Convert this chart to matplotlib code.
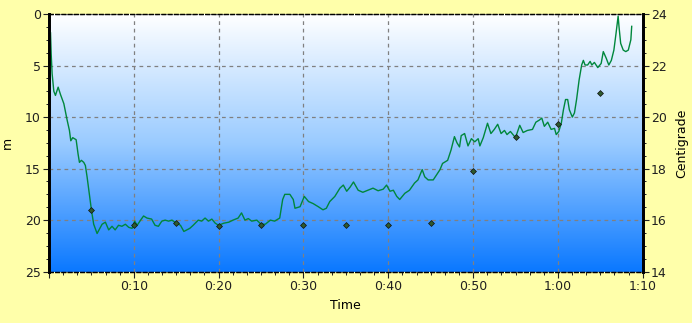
import numpy as np
import matplotlib.pyplot as plt
from matplotlib.colors import LinearSegmentedColormap
from matplotlib.ticker import MultipleLocator, FuncFormatter

# depth profile, time in minutes, depth in m
time_min = [0.0, 0.18, 0.26, 0.37, 0.57, 0.76, 1.08, 1.35, 1.75, 2.14, 2.41, 2.57, 2.8, 3.2,
            3.43, 3.59, 3.82, 4.1, 4.29, 4.49, 4.76, 5.0, 5.27, 5.67, 6.26, 6.65, 7.04,
            7.43, 7.8, 8.2, 8.6, 9.0, 9.4, 9.8, 10.1, 10.4, 10.8, 11.15, 11.55, 12.1,
            12.5, 12.9, 13.3, 13.7, 14.1, 14.5, 15.0, 15.5, 15.9, 16.25, 16.6, 17.0,
            17.6, 18.0, 18.4, 18.8, 19.2, 19.6, 20.0, 20.6, 21.2, 21.7, 22.3, 22.7,
            23.1, 23.5, 23.9, 24.5, 25.0, 25.5, 26.1, 26.6, 27.2, 27.55, 27.8, 28.4,
            28.8, 29.0, 29.6, 30.1, 30.6, 31.15, 31.75, 32.3, 32.7, 33.1, 33.7, 34.3,
            34.7, 35.1, 35.5, 35.9, 36.45, 37.0, 37.6, 38.2, 38.8, 39.4, 39.8, 40.2,
            40.6, 41.0, 41.35, 41.95, 42.5, 43.1, 43.5, 44.0, 44.3, 44.7, 45.3, 45.7,
            46.1, 46.4, 47.0, 47.4, 47.8, 48.1, 48.4, 48.6, 49.0, 49.4, 49.8, 50.2,
            50.6, 50.8, 51.2, 51.7, 52.1, 52.5, 52.9, 53.3, 53.7, 54.0, 54.4, 55.0,
            55.5, 55.9, 56.4, 57.0, 57.4, 57.8, 58.1, 58.4, 58.8, 59.2, 59.6, 59.8,
            60.1, 60.4, 60.65, 60.9, 61.15, 61.35, 61.7, 61.95, 62.2, 62.5, 62.8,
            63.0, 63.2, 63.5, 63.8, 64.0, 64.3, 64.7, 65.1, 65.35, 65.7, 66.0, 66.3,
            66.6, 66.85, 67.1, 67.2, 67.4, 67.7, 68.0, 68.3, 68.6, 68.7]
depth_m = [1.5, 1.8, 3.9, 5.8, 7.5, 7.9, 7.1, 7.8, 8.7, 10.3, 11.3, 12.3, 12.0, 12.2,
           13.6, 14.4, 14.2, 14.4, 14.7, 15.8, 17.5, 19.0, 20.4, 21.3, 20.4, 20.2, 20.95,
           20.6, 20.95, 20.5, 20.6, 20.4, 20.7, 20.8, 20.1, 20.5, 20.0, 19.6, 19.8, 19.9,
           20.5, 20.6, 20.1, 20.0, 20.1, 20.0, 20.3, 20.5, 21.1, 20.95, 20.8, 20.5,
           20.0, 20.1, 19.8, 20.1, 19.9, 20.3, 20.5, 20.3, 20.2, 20.0, 19.8, 19.3,
           20.0, 19.85, 20.1, 20.0, 20.4, 20.4, 20.0, 20.1, 19.8, 18.0, 17.5, 17.5,
           18.0, 18.85, 18.7, 17.7, 18.2, 18.4, 18.7, 19.0, 18.85, 18.2, 17.7, 16.9,
           16.6, 17.2, 16.8, 16.3, 17.1, 17.3, 17.1, 16.9, 17.15, 17.0, 16.6, 17.2,
           17.1, 17.7, 18.0, 17.4, 17.1, 16.4, 16.1, 15.1, 15.8, 16.1, 16.1, 15.6,
           15.1, 14.5, 14.2, 13.2, 11.9, 12.5, 12.9, 11.8, 11.6, 12.8, 12.1, 12.4,
           12.1, 12.8, 12.0, 10.6, 11.6, 11.2, 10.7, 11.6, 11.3, 11.7, 11.4, 12.0,
           10.8, 11.5, 11.3, 11.2, 10.5, 10.3, 10.1, 10.9, 10.5, 11.2, 11.1, 11.7,
           11.4, 10.6, 9.3, 8.3, 8.3, 9.3, 10.0, 9.6, 8.3, 6.4, 4.95,
           4.5, 4.95, 4.95, 4.6, 4.95, 4.7, 5.2, 4.8, 3.65, 4.3, 4.95, 4.5,
           3.5, 1.9, 0.2, 1.2, 2.85, 3.5, 3.65, 3.5, 2.5, 1.2]

# water temperature samples
temp_time = [5, 10, 15, 20, 25, 30, 35, 40, 45, 50, 55, 60, 65]
temp_c = [16.4, 15.81, 15.9, 15.78, 15.81, 15.8, 15.8, 15.8, 15.88, 17.9, 19.22, 19.72, 20.92]

bg = '#FFFFAA'
fig = plt.figure(figsize=(6.92, 3.23), dpi=100, facecolor=bg)
ax = fig.add_axes([0.0708, 0.159, 0.858, 0.7977])

cmap = LinearSegmentedColormap.from_list('water', ['#FFFFFF', '#9ACBFF', '#0A78FF'])
grad = np.linspace(0, 1, 256).reshape(-1, 1)
ax.imshow(grad, cmap=cmap, aspect='auto', extent=[0, 70, 25, 0], zorder=0)

ax.plot(time_min, depth_m, color='#00873C', lw=1.0, zorder=3)
ax.set_xlim(0, 70)
ax.set_ylim(25, 0)

def fmt_time(v, pos):
    if v <= 0:
        return ''
    m = int(round(v))
    return '%d:%02d' % (m // 60, m % 60)

ax.xaxis.set_major_locator(MultipleLocator(10))
ax.xaxis.set_minor_locator(MultipleLocator(10 / 6))
ax.xaxis.set_major_formatter(FuncFormatter(fmt_time))
ax.yaxis.set_major_locator(MultipleLocator(5))
ax.yaxis.set_minor_locator(MultipleLocator(1.25))
ax.grid(True, which='major', color='#808080', linestyle=(0, (3, 3)), lw=0.9, zorder=1)
ax.set_axisbelow(False)

ax.set_xlabel('Time', fontsize=9, labelpad=4)
ax.set_ylabel('m', fontsize=9, labelpad=8)

ax2 = ax.twinx()
ax2.scatter(temp_time, temp_c, marker='D', s=9, color='#2E5A2E', edgecolors='#101010',
            linewidths=0.5, zorder=4)
ax2.set_ylim(14, 24)
ax2.yaxis.set_major_locator(MultipleLocator(2))
ax2.yaxis.set_minor_locator(MultipleLocator(0.5))
ax2.set_ylabel('Centigrade', fontsize=9, labelpad=6)

for a in (ax, ax2):
    a.tick_params(which='major', length=4, width=0.8, labelsize=9, colors='#202020',
                  pad=2)
    a.tick_params(which='minor', length=2, width=0.7, colors='#202020')
    a.spines['left'].set_linewidth(2)
    a.spines['right'].set_linewidth(2)
    a.spines['top'].set_linestyle((0, (3, 2)))
    a.spines['top'].set_linewidth(0.9)
    a.spines['bottom'].set_linestyle((0, (3, 2)))
    a.spines['bottom'].set_linewidth(0.9)

fig.savefig('out.png', dpi=100, facecolor=bg)
